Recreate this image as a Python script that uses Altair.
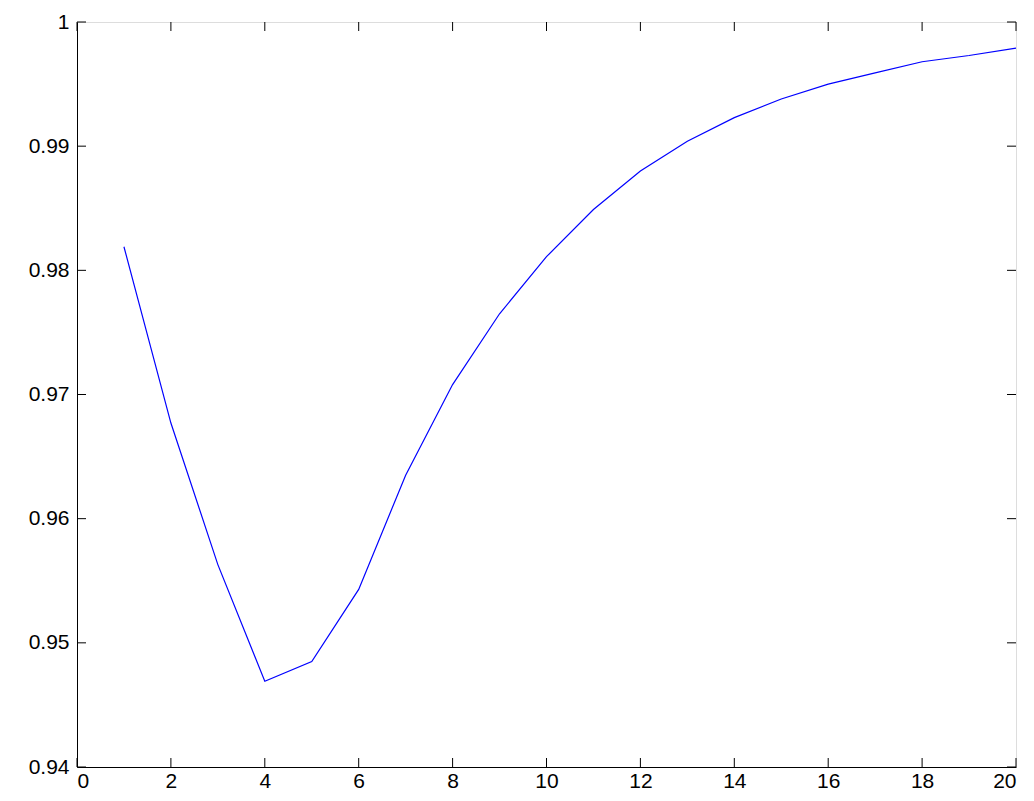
import altair as alt
import pandas as pd

xs = list(range(1, 21))
ys = [0.9819, 0.9677, 0.9563, 0.9469, 0.9485, 0.9543, 0.9635, 0.9708, 0.9765, 0.9811,
      0.9849, 0.9880, 0.9904, 0.9923, 0.9938, 0.9950, 0.9959, 0.9968, 0.9973, 0.9979]
xticks = list(range(0, 21, 2))
yticks = [0.94, 0.95, 0.96, 0.97, 0.98, 0.99, 1.0]

df = pd.DataFrame({"x": xs, "y": ys})
W, H = 939, 745
xs_ = alt.Scale(domain=[0, 20], nice=False)
ys_ = alt.Scale(domain=[0.94, 1.0], nice=False)
font = "Liberation Sans"

line = alt.Chart(df).mark_line(color="#0000ff", strokeWidth=1.2).encode(
    x=alt.X("x:Q", scale=xs_, axis=alt.Axis(values=xticks, title=None, grid=False, tickSize=0,
                                            labelFont=font, labelFontSize=21, labelColor="black",
                                            labelPadding=3, domainColor="black")),
    y=alt.Y("y:Q", scale=ys_, axis=alt.Axis(values=yticks, title=None, grid=False, tickSize=0,
                                            labelFont=font, labelFontSize=21, labelColor="black",
                                            labelPadding=8, domainColor="black",
                                            labelExpr="datum.value == 1 ? '1' : format(datum.value, '.2f')")),
)

xt = pd.DataFrame({"x": xticks})
yt = pd.DataFrame({"y": yticks})
tick = dict(color="black", strokeWidth=1)
xb = alt.Chart(xt).mark_rule(**tick).encode(x=alt.X("x:Q", scale=xs_), y=alt.value(H), y2=alt.value(H - 9))
xtp = alt.Chart(xt).mark_rule(**tick).encode(x=alt.X("x:Q", scale=xs_), y=alt.value(0), y2=alt.value(9))
yl = alt.Chart(yt).mark_rule(**tick).encode(y=alt.Y("y:Q", scale=ys_), x=alt.value(0), x2=alt.value(9))
yr = alt.Chart(yt).mark_rule(**tick).encode(y=alt.Y("y:Q", scale=ys_), x=alt.value(W), x2=alt.value(W - 9))

chart = alt.layer(line, xb, xtp, yl, yr).properties(
    width=W, height=H, autosize="none",
    padding={"left": 69, "top": 14, "right": 10, "bottom": 34},
).configure_view(stroke="black", strokeWidth=1).configure(background="white")

chart.save("out.html", embed_options={"renderer": "svg", "actions": False})
